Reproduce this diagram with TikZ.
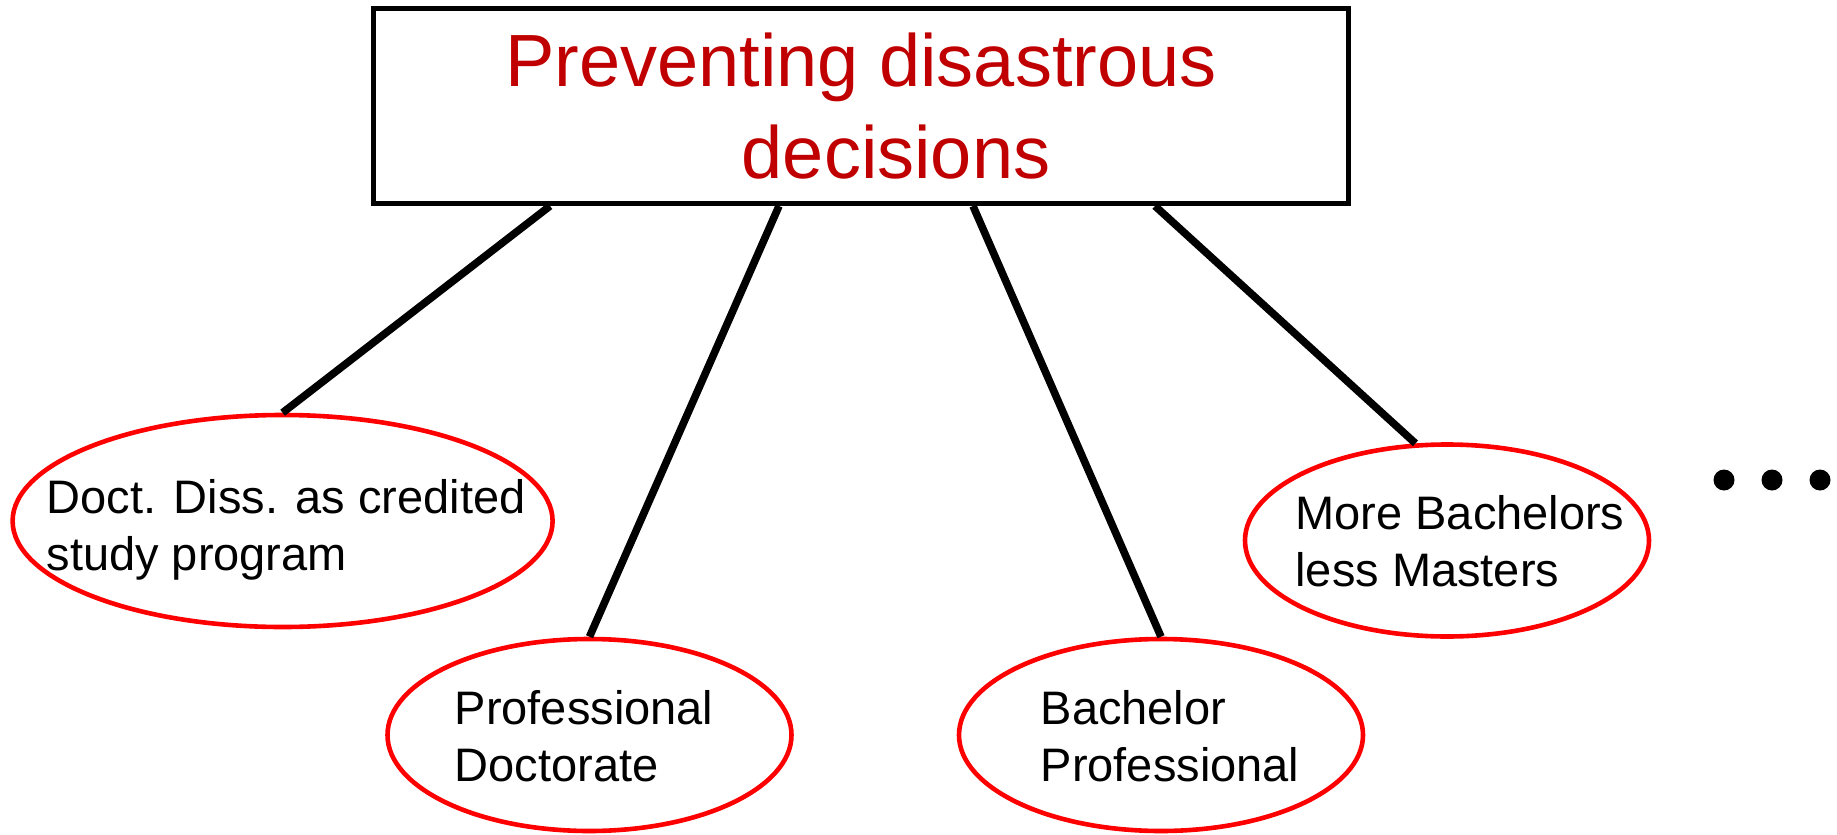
\documentclass[tikz,border=0pt]{standalone}
\usepackage{fontspec}
\setmainfont{Liberation Sans}
\usepackage{tikz}
\usetikzlibrary{arrows,shapes}
\usetikzlibrary{arrows.meta}
\tikzstyle{topic}=[rectangle, draw, line width=2.5pt, align=center, minimum width=487.5pt, minimum height=97.5pt, text=titlered, font=\fontsize{37}{46}\selectfont]
\tikzstyle{option}=[ellipse, draw=ovalred, line width=2.3pt, minimum width=202pt, minimum height=96pt, inner sep=0pt]
\tikzstyle{optiontext}=[align=left, inner sep=0pt, font=\fontsize{23.5}{28.5}\selectfont]
\tikzstyle{link}=[draw, line width=3.8pt]
\tikzstyle{dotmark}=[circle, fill=black, minimum size=10.5pt, inner sep=0pt]
\definecolor{titlered}{RGB}{192, 0, 0}
\definecolor{ovalred}{RGB}{255, 0, 0}
\begin{document}
\begin{tikzpicture}[x=0.5pt, y=-0.5pt, thick]
      %
      \path[use as bounding box] (0,0) rectangle (1837,835);
      %
      % Preventing disastrous decisions*
      %
      \path node[topic] (decision) at (861,106) {Preventing disastrous\\ \hspace*{35pt}decisions};
      %
      % Decision --> Doct. Diss.*
      %
      \path node[option, minimum width=270pt, minimum height=106pt] (credited) at (282.6,521) {};
      \path node[optiontext] (credited-txt) at (286,530) {Doct. Diss. as credited\\study program};
      \path [link] ([xshift=-155.5pt]decision.south) -- (credited.north);
      %
      % Decision --> Professional Doctorate*
      %
      \path node[option] (profdoc) at (589.5,735) {};
      \path node[optiontext] (profdoc-txt) at (584,736) {Professional\\Doctorate};
      \path [link] ([xshift=-41pt]decision.south) -- (profdoc.north);
      %
      % Decision --> Bachelor Professional*
      %
      \path node[option] (bachprof) at (1161,735) {};
      \path node[optiontext] (bachprof-txt) at (1170,736) {Bachelor\\Professional};
      \path [link] ([xshift=56pt]decision.south) -- (bachprof.north);
      %
      % Decision --> More Bachelors*
      %
      \path node[option] (morebach) at (1447,540.5) {};
      \path node[optiontext] (morebach-txt) at (1460,541) {More Bachelors\\less Masters};
      \path [link] ([xshift=147pt]decision.south) -- (morebach.108);
      %
      % and so on
      %
      \foreach \x [count=\i] in {1724,1772,1820}
        \path node[dotmark] (dot\i) at (\x,480) {};
      %
    \end{tikzpicture}
\end{document}
